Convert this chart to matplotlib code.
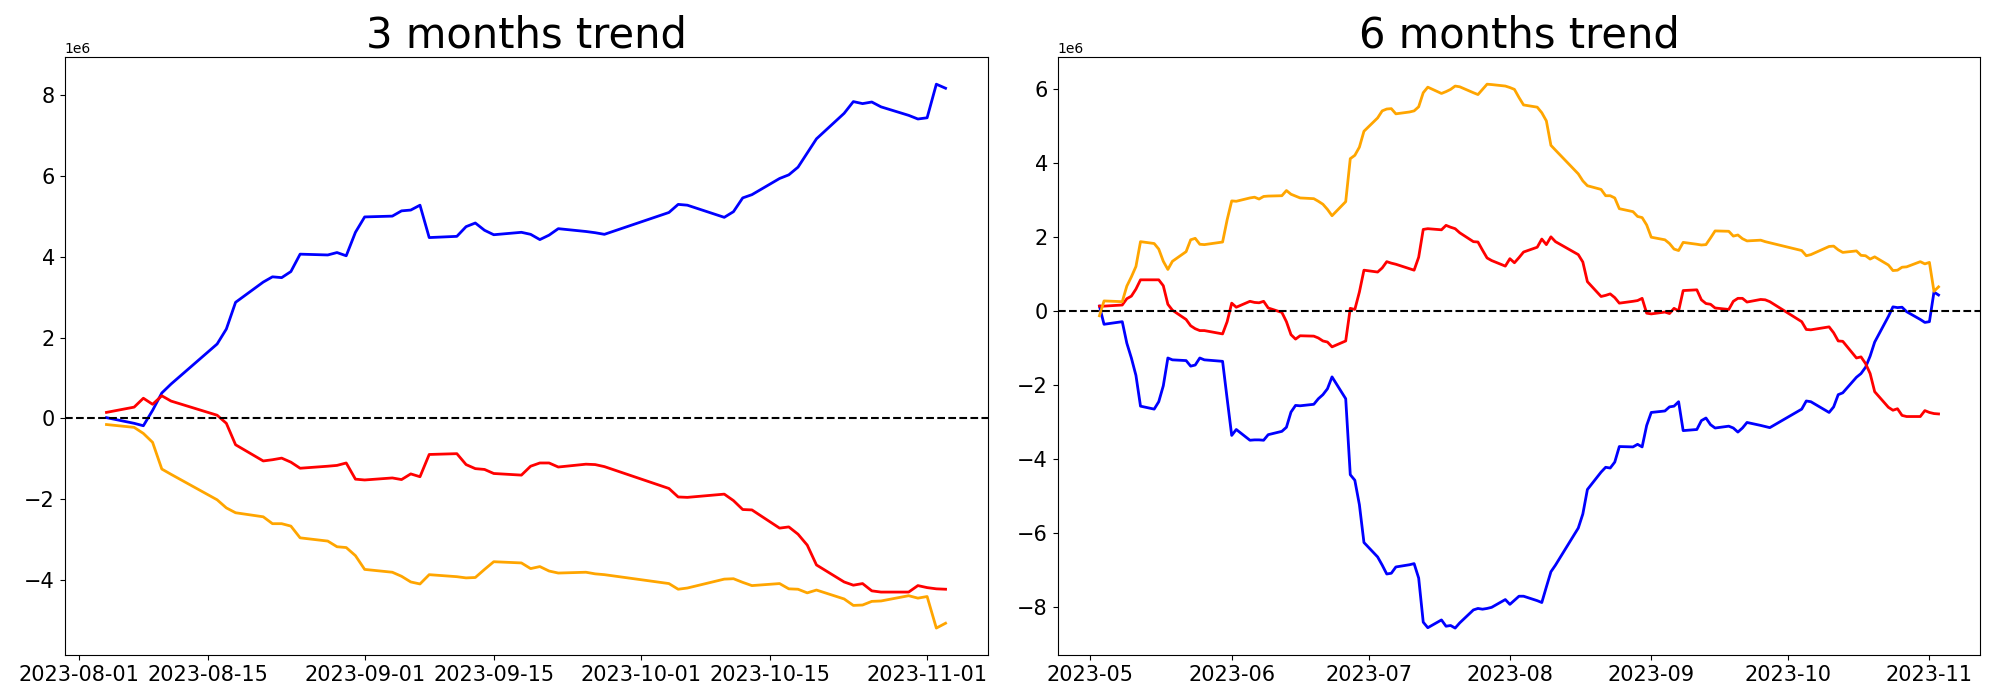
import numpy as np
import pandas as pd
import matplotlib
matplotlib.use("Agg")
import matplotlib.pyplot as plt

# trading days shown in each panel (day numbers per month)
days_3m = {
    "2023-08": [4, 7, 8, 9, 10, 11, 16, 17, 18, 21, 22, 23, 24, 25, 28, 29, 30, 31],
    "2023-09": [1, 4, 5, 6, 7, 8, 11, 12, 13, 14, 15, 18, 19, 20, 21, 22, 25, 26, 27],
    "2023-10": [4, 5, 6, 10, 11, 12, 13, 16, 17, 18, 19, 20, 23, 24, 25, 26, 27, 30, 31],
    "2023-11": [1, 2, 3],
}
days_6m = {
    "2023-05": [3, 4, 8, 9, 10, 11, 12, 15, 16, 17, 18, 19, 22, 23, 24, 25, 26, 30, 31],
    "2023-06": [1, 2, 5, 6, 7, 8, 9, 12, 13, 14, 15, 16, 19, 20, 21, 22, 23, 26, 27, 28, 29, 30],
    "2023-07": [3, 4, 5, 6, 7, 10, 11, 12, 13, 14, 17, 18, 19, 20, 21, 24, 25, 26, 27, 28, 31],
    "2023-08": [1, 2, 3, 4, 7, 8, 9, 10, 11, 16, 17, 18, 21, 22, 23, 24, 25, 28, 29, 30, 31],
    "2023-09": [1, 4, 5, 6, 7, 8, 11, 12, 13, 14, 15, 18, 19, 20, 21, 22, 25, 26, 27],
    "2023-10": [4, 5, 6, 10, 11, 12, 13, 16, 17, 18, 19, 20, 23, 24, 25, 26, 27, 30, 31],
    "2023-11": [1, 2, 3],
}

# values in millions
blue_3m = [
    0.02, -0.12, -0.18, 0.20, 0.63, 0.85, 1.84, 2.21, 2.87, 3.37, 3.50, 3.48, 3.63, 4.06, 4.04, 4.10, 4.02, 4.60,
    4.98, 5.00, 5.13, 5.15, 5.27, 4.47, 4.50, 4.74, 4.83, 4.65, 4.54, 4.60, 4.55, 4.42, 4.53, 4.69, 4.62, 4.59, 4.55,
    5.09, 5.29, 5.27, 4.97, 5.11, 5.45, 5.53, 5.93, 6.02, 6.21, 6.56, 6.91, 7.54, 7.83, 7.78, 7.82, 7.70, 7.49, 7.40,
    7.43, 8.26, 8.16,
]
red_3m = [
    0.15, 0.28, 0.50, 0.35, 0.56, 0.43, 0.08, -0.12, -0.65, -1.05, -1.02, -0.98, -1.08, -1.23, -1.18, -1.16, -1.10, -1.50,
    -1.52, -1.47, -1.51, -1.37, -1.44, -0.89, -0.87, -1.14, -1.24, -1.26, -1.36, -1.40, -1.18, -1.10, -1.10, -1.20, -1.13, -1.14, -1.19,
    -1.73, -1.94, -1.95, -1.87, -2.03, -2.25, -2.26, -2.71, -2.68, -2.86, -3.13, -3.62, -4.04, -4.12, -4.08, -4.26, -4.29, -4.29, -4.13,
    -4.18, -4.21, -4.22,
]
orange_3m = [
    -0.15, -0.22, -0.37, -0.59, -1.25, -1.38, -2.01, -2.21, -2.33, -2.43, -2.60, -2.60, -2.66, -2.95, -3.03, -3.17, -3.19, -3.39,
    -3.73, -3.80, -3.90, -4.04, -4.09, -3.86, -3.91, -3.94, -3.93, -3.73, -3.54, -3.57, -3.71, -3.66, -3.77, -3.82, -3.80, -3.84, -3.86,
    -4.08, -4.22, -4.19, -3.97, -3.96, -4.05, -4.13, -4.08, -4.21, -4.22, -4.31, -4.24, -4.46, -4.62, -4.61, -4.52, -4.51, -4.38, -4.44,
    -4.40, -5.18, -5.06,
]

blue_6m = [
    0.13, -0.36, -0.29, -0.87, -1.27, -1.74, -2.57, -2.65, -2.45, -2.02, -1.27, -1.32, -1.34, -1.49, -1.46, -1.27, -1.32, -1.36, -2.37,
    -3.36, -3.20, -3.49, -3.48, -3.48, -3.49, -3.34, -3.25, -3.14, -2.73, -2.55, -2.56, -2.52, -2.37, -2.26, -2.10, -1.78, -2.37, -4.42, -4.57, -5.23, -6.25,
    -6.64, -6.86, -7.10, -7.08, -6.91, -6.85, -6.82, -7.21, -8.40, -8.55, -8.34, -8.51, -8.49, -8.56, -8.42, -8.07, -8.03, -8.05, -8.03, -8.00, -7.79,
    -7.92, -7.81, -7.70, -7.70, -7.82, -7.87, -7.45, -7.04, -6.86, -5.86, -5.48, -4.82, -4.35, -4.22, -4.24, -4.08, -3.66, -3.67, -3.60, -3.67, -3.09,
    -2.74, -2.70, -2.59, -2.57, -2.45, -3.23, -3.20, -2.96, -2.89, -3.07, -3.16, -3.11, -3.16, -3.27, -3.16, -3.01, -3.09, -3.12, -3.15,
    -2.65, -2.43, -2.45, -2.74, -2.59, -2.26, -2.21, -1.79, -1.69, -1.52, -1.22, -0.84, -0.15, 0.11, 0.09, 0.10, -0.02, -0.23, -0.31,
    -0.29, 0.51, 0.43,
]
red_6m = [
    0.13, 0.13, 0.16, 0.33, 0.40, 0.59, 0.84, 0.84, 0.84, 0.68, 0.18, 0.02, -0.23, -0.40, -0.48, -0.53, -0.53, -0.62, -0.29,
    0.21, 0.10, 0.26, 0.23, 0.22, 0.26, 0.08, -0.04, -0.29, -0.64, -0.76, -0.67, -0.68, -0.73, -0.81, -0.84, -0.97, -0.81, 0.07, 0.04, 0.51, 1.10,
    1.05, 1.16, 1.33, 1.29, 1.26, 1.14, 1.10, 1.45, 2.20, 2.22, 2.19, 2.31, 2.26, 2.22, 2.11, 1.87, 1.86, 1.64, 1.43, 1.36, 1.21,
    1.41, 1.30, 1.44, 1.59, 1.72, 1.94, 1.79, 2.00, 1.87, 1.52, 1.32, 0.79, 0.39, 0.42, 0.46, 0.36, 0.21, 0.26, 0.28, 0.34, -0.06,
    -0.08, -0.03, -0.07, 0.07, 0.00, 0.55, 0.57, 0.30, 0.20, 0.18, 0.08, 0.04, 0.26, 0.34, 0.34, 0.24, 0.31, 0.30, 0.25,
    -0.29, -0.50, -0.51, -0.43, -0.59, -0.81, -0.82, -1.27, -1.24, -1.42, -1.69, -2.18, -2.60, -2.68, -2.64, -2.82, -2.85, -2.85, -2.69,
    -2.74, -2.77, -2.78,
]
orange_6m = [
    -0.13, 0.27, 0.25, 0.67, 0.92, 1.20, 1.87, 1.82, 1.67, 1.34, 1.12, 1.34, 1.60, 1.92, 1.96, 1.80, 1.79, 1.86, 2.46,
    2.97, 2.96, 3.05, 3.07, 3.02, 3.09, 3.10, 3.11, 3.25, 3.15, 3.10, 3.05, 3.03, 2.96, 2.88, 2.74, 2.57, 2.95, 4.11, 4.20, 4.42, 4.85,
    5.21, 5.40, 5.45, 5.46, 5.32, 5.37, 5.40, 5.51, 5.89, 6.04, 5.87, 5.92, 5.98, 6.07, 6.05, 5.89, 5.84, 5.98, 6.12, 6.11, 6.07,
    6.03, 5.98, 5.76, 5.56, 5.50, 5.35, 5.13, 4.47, 4.34, 3.70, 3.51, 3.38, 3.28, 3.11, 3.11, 3.05, 2.76, 2.68, 2.55, 2.52, 2.32,
    1.99, 1.92, 1.82, 1.67, 1.63, 1.85, 1.80, 1.78, 1.79, 1.97, 2.16, 2.15, 2.02, 2.05, 1.95, 1.89, 1.91, 1.87, 1.84,
    1.63, 1.49, 1.52, 1.74, 1.75, 1.65, 1.58, 1.62, 1.50, 1.49, 1.40, 1.46, 1.24, 1.09, 1.10, 1.18, 1.19, 1.33, 1.27,
    1.31, 0.53, 0.65,
]


def to_dates(days):
    return pd.to_datetime([f"{month}-{d:02d}" for month, ds in days.items() for d in ds])


def draw_panel(ax, dates, series, title):
    for values, color in series:
        ax.plot(dates, np.array(values) * 1e6, color=color, linewidth=2)
    ax.axhline(0, color="black", linestyle="--", linewidth=1.5)
    ax.set_title(title, fontsize=30)
    ax.tick_params(axis="both", labelsize=15)


fig, axes = plt.subplots(1, 2, figsize=(20, 7))

draw_panel(axes[0], to_dates(days_3m),
           [(blue_3m, "blue"), (red_3m, "red"), (orange_3m, "orange")],
           "3 months trend")
draw_panel(axes[1], to_dates(days_6m),
           [(blue_6m, "blue"), (red_6m, "red"), (orange_6m, "orange")],
           "6 months trend")

plt.tight_layout()
plt.savefig("out.png", dpi=100)
plt.close()
